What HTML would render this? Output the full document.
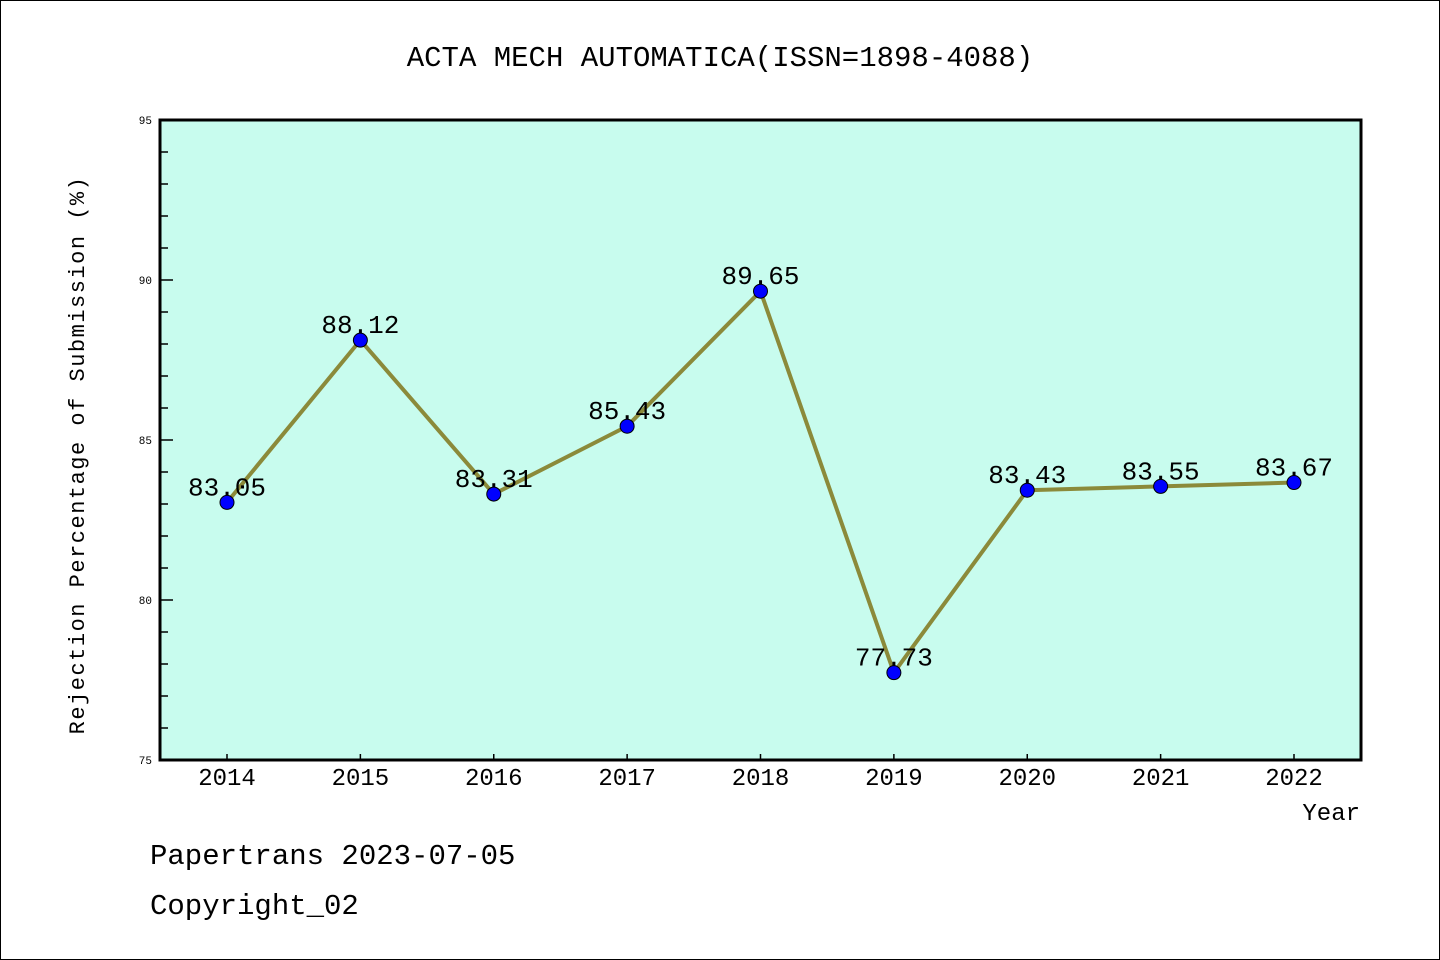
<!DOCTYPE html>
<html><head><meta charset="utf-8"><style>
html,body{margin:0;padding:0;background:#fff}
svg{display:block}
text{font-family:"Liberation Mono","DejaVu Sans Mono",monospace}
</style></head><body>
<svg id="chart" width="1440" height="960" xmlns="http://www.w3.org/2000/svg">
<rect x="0.5" y="0.5" width="1439" height="959" fill="#fff" stroke="#000" stroke-width="1"/>
<text x="720" y="66" text-anchor="middle" font-size="29">ACTA MECH AUTOMATICA(ISSN=1898-4088)</text>
<rect x="160" y="120" width="1201" height="640" fill="#c8fcee"/>
<g id="ticks"></g>
<g id="series"></g>
<rect x="160" y="120" width="1201" height="640" fill="none" stroke="#000" stroke-width="3"/>
<text transform="translate(84,455) rotate(-90)" text-anchor="middle" font-size="22" letter-spacing="1.5">Rejection Percentage of Submission (%)</text>
<text x="1360" y="820" text-anchor="end" font-size="24">Year</text>
<text x="150" y="864" font-size="29">Papertrans 2023-07-05</text>
<text x="150" y="914" font-size="29">Copyright_02</text>
</svg>
<script>
const years = ["2014","2015","2016","2017","2018","2019","2020","2021","2022"];
const rates = [83.05, 88.12, 83.31, 85.43, 89.65, 77.73, 83.43, 83.55, 83.67];
const yTicks = [75, 80, 85, 90, 95];
const SVGNS = "http://www.w3.org/2000/svg";
const yMin = 75, yMax = 95, plotTop = 120, plotBot = 760;
const xFirst = 227, xLast = 1294;
function xs(i){ return xFirst + (xLast - xFirst) * i / (years.length - 1); }
function ys(v){ return plotBot - (v - yMin) / (yMax - yMin) * (plotBot - plotTop); }
function mk(tag, attrs, parent){ const e = document.createElementNS(SVGNS, tag); for (const k in attrs) e.setAttribute(k, attrs[k]); parent.appendChild(e); return e; }
const tg = document.getElementById('ticks');
for (let v = yMin; v <= yMax; v++) {
  const major = yTicks.includes(v);
  const t = mk('line', {x1:160, x2:160 + (major ? 13 : 8), y1:ys(v), y2:ys(v), stroke:'#000', 'stroke-width':1.5}, tg);
  
  
}
yTicks.forEach(v => {
  const t = mk('text', {x:152, y:ys(v) + 4, 'text-anchor':'end', 'font-size':11, 'font-family':'Liberation Sans, sans-serif'}, tg);
  t.textContent = v;
  
  
});
years.forEach((y, i) => {
  const t = mk('line', {x1:xs(i), x2:xs(i), y1:760, y2:754, stroke:'#000', 'stroke-width':1.5}, tg);
  
  
  const l = mk('text', {x:xs(i), y:785, 'text-anchor':'middle', 'font-size':24, 'font-family':'Liberation Sans, sans-serif'}, tg);
  l.textContent = y;
  
  
});
const sg = document.getElementById('series');
const pts = rates.map((v, i) => xs(i) + ',' + ys(v)).join(' ');
const pl = mk('polyline', {points:pts, fill:'none', stroke:'#8b8a3a', 'stroke-width':4, 'stroke-linejoin':'round'}, sg);


rates.forEach((v, i) => {
  const c = mk('circle', {cx:xs(i), cy:ys(v), r:7, fill:'#0000ff', stroke:'#000', 'stroke-width':1}, sg);
  
  
  const t = mk('text', {x:xs(i), y:ys(v) - 7, 'text-anchor':'middle', 'font-size':26, 'font-family':'Liberation Sans, sans-serif'}, sg);
  t.textContent = v.toFixed(2);
  
  
});
</script>
</body></html>
